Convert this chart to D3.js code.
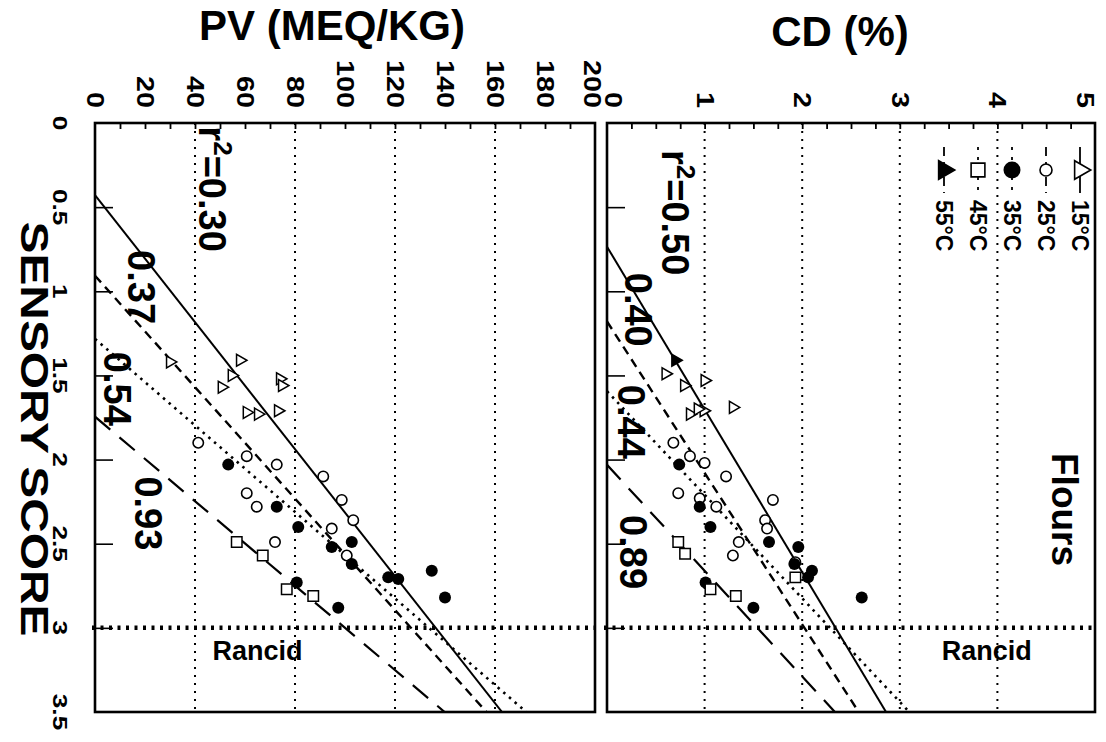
<!DOCTYPE html>
<html>
<head>
<meta charset="utf-8">
<script src="https://cdn.jsdelivr.net/npm/d3@7"></script>
<style>
  body { margin: 0; background: #fff; }
  text { font-family: "Liberation Sans", Arial, Helvetica, sans-serif; font-weight: bold; fill: #000; }
</style>
</head>
<body>
<svg id="chart" width="1106" height="742"></svg>
<script>
// ---- axis ticks ----
const scoreTicks = [0, 0.5, 1, 1.5, 2, 2.5, 3, 3.5];
const pvTicks = [0, 20, 40, 60, 80, 100, 120, 140, 160, 180, 200];
const cdTicks = [0, 1, 2, 3, 4, 5];
const pvGrid = [40, 80, 120, 160];
const cdGrid = [1, 2, 3, 4];
const rancidScore = 3;

// ---- storage temperatures ----
const temperatures = ["15°C", "25°C", "35°C", "45°C", "55°C"];

// ---- peroxide value, points as [sensory score, PV] ----
const pv15 = [[1.41, 58], [1.42, 30], [1.50, 54.7], [1.57, 50.7], [1.52, 74], [1.56, 74.8],
              [1.71, 73.2], [1.72, 60.7], [1.73, 65.2]];
const pv25 = [[1.90, 41.3], [1.98, 60.7], [2.03, 72.7], [2.10, 91.3], [2.24, 98.7], [2.36, 103.3],
              [2.20, 60.7], [2.28, 64.7], [2.41, 94.7], [2.49, 72], [2.57, 100.7]];
const pv35 = [[2.03, 53.3], [2.28, 72.7], [2.40, 81.3], [2.52, 94.7], [2.49, 102.7], [2.62, 102.7],
              [2.70, 117.3], [2.71, 121.3], [2.66, 134.7], [2.82, 140], [2.73, 80.7], [2.88, 97.3]];
const pv45 = [[2.49, 56.7], [2.57, 67.1], [2.77, 76.7], [2.81, 87.3]];
const pv55 = [];

// ---- conjugated dienes, points as [sensory score, CD %] ----
const cd15 = [[1.49, 0.60], [1.53, 1.00], [1.56, 0.79], [1.69, 1.29], [1.71, 0.99], [1.73, 0.85], [1.70, 0.93]];
const cd25 = [[1.90, 0.68], [1.98, 0.85], [2.02, 1.00], [2.10, 1.22], [2.20, 0.73], [2.23, 0.95],
              [2.28, 1.12], [2.24, 1.70], [2.36, 1.62], [2.41, 1.64], [2.49, 1.35], [2.57, 1.29], [2.61, 1.93]];
const cd35 = [[2.03, 0.74], [2.28, 0.95], [2.40, 1.06], [2.49, 1.66], [2.52, 1.96], [2.62, 1.92],
              [2.66, 2.10], [2.70, 2.06], [2.82, 2.61], [2.88, 1.50], [2.73, 1.01]];
const cd45 = [[2.49, 0.73], [2.56, 0.80], [2.77, 1.06], [2.81, 1.32], [2.70, 1.93]];
const cd55 = [[1.41, 0.70]];

// ---- linear fits (value = intercept + slope * score) for 15, 25, 35, 45 °C ----
const pvR2 = ["0.30", "0.37", "0.54", "0.93"];
const pvIntercept = [-22.7, -54.8, -99.8, -139.1];
const pvSlope = [53.0, 60.4, 77.8, 79.7];
const cdR2 = ["0.50", "0.40", "0.44", "0.89"];
const cdIntercept = [-0.76, -1.31, -2.59, -3.23];
const cdSlope = [1.034, 1.111, 1.625, 1.59];

// ---- drawing ----
const svg = d3.select("#chart");
const plotTop = 123, plotBottom = 712;
const y = d3.scaleLinear().domain([0, 3.5]).range([plotTop, plotBottom]);
const xPV = d3.scaleLinear().domain([0, 200]).range([95, 595]);
const xCD = d3.scaleLinear().domain([0, 5]).range([607, 1095]);

// line style per temperature (index into temperatures)
const lineStyle = [
  { dash: null, width: 2 },
  { dash: "9 6", width: 2.4 },
  { dash: "2.5 5", width: 2.6 },
  { dash: "20 12", width: 2.2 },
  { dash: "9 6", width: 2.2 }
];
const sym = {
  tri: d3.symbol().type(d3.symbolTriangle),
  sq: d3.symbol().type(d3.symbolSquare)
};

// rotated text helper: reads top-to-bottom
function vtext(g, x, yy, str, size, anchor, stretch) {
  const t = g.append("text")
    .attr("transform", `translate(${x},${yy}) rotate(90) scale(${stretch || 1},1)`)
    .attr("font-size", size)
    .attr("text-anchor", anchor || "start");
  t.text(str);
  return t;
}

function panel(x, ticksMajor, minorStep, grid, series, r2, b0, b1, labelPos, rancidAt, inset, id) {
  const [x0, x1] = x.range();
  const g = svg.append("g");

  g.append("clipPath").attr("id", id).append("rect")
    .attr("x", x0).attr("y", plotTop).attr("width", x1 - x0).attr("height", plotBottom - plotTop);

  // vertical dotted gridlines
  g.selectAll(".grid").data(grid).join("line")
    .attr("x1", d => x(d)).attr("x2", d => x(d))
    .attr("y1", plotTop).attr("y2", plotBottom)
    .attr("stroke", "#000").attr("stroke-width", 2).attr("stroke-dasharray", "2 6");

  // rancid threshold
  g.append("line")
    .attr("x1", x0 - 3).attr("x2", x1)
    .attr("y1", y(rancidScore)).attr("y2", y(rancidScore))
    .attr("stroke", "#000").attr("stroke-width", 4.5).attr("stroke-dasharray", "3 5.5");

  // top axis ticks (inward)
  const dom = x.domain();
  const minor = d3.range(dom[0] + minorStep, dom[1] - 1e-9, minorStep);
  g.append("g").attr("transform", `translate(0,${plotTop})`)
    .call(d3.axisTop(x).tickValues(minor).tickSize(-6).tickFormat(""))
    .call(s => s.select(".domain").remove())
    .call(s => s.selectAll("line").attr("stroke-width", 1.8));

  // score ticks on the left edge (inward)
  g.append("g").attr("transform", `translate(${x0},0)`)
    .call(d3.axisLeft(y).tickValues(scoreTicks.slice(1, -1)).tickSize(-18).tickFormat(""))
    .call(s => s.select(".domain").remove())
    .call(s => s.selectAll("line").attr("stroke-width", 1.6));

  // fitted lines
  const lineGen = d3.line().x(d => x(d[1])).y(d => y(d[0]));
  const fits = g.append("g").attr("clip-path", `url(#${id})`);
  b0.forEach((a, i) => {
    const s0 = Math.max(0, -a / b1[i]);
    const s1 = 3.5;
    fits.append("path")
      .attr("d", lineGen([[s0, a + b1[i] * s0], [s1, a + b1[i] * s1]]))
      .attr("fill", "none").attr("stroke", "#000")
      .attr("stroke-width", lineStyle[i].width)
      .attr("stroke-dasharray", lineStyle[i].dash);
  });

  // points
  const pts = g.append("g");
  series.forEach((data, i) => {
    data.forEach(d => {
      const px = x(d[1]), py = y(d[0]);
      if (i === 0 || i === 4) {
        pts.append("path").attr("d", sym.tri.size(62)())
          .attr("transform", `translate(${px},${py}) rotate(90)`)
          .attr("fill", i === 4 ? "#000" : "#fff").attr("stroke", "#000").attr("stroke-width", 1.5);
      } else if (i === 1) {
        pts.append("circle").attr("cx", px).attr("cy", py).attr("r", 5.2)
          .attr("fill", "#fff").attr("stroke", "#000").attr("stroke-width", 1.6);
      } else if (i === 2) {
        pts.append("circle").attr("cx", px).attr("cy", py).attr("r", 6)
          .attr("fill", "#000");
      } else {
        pts.append("path").attr("d", sym.sq.size(110)())
          .attr("transform", `translate(${px},${py})`)
          .attr("fill", "#fff").attr("stroke", "#000").attr("stroke-width", 1.5);
      }
    });
  });

  // r² labels
  r2.forEach((v, i) => {
    const [lv, ls] = labelPos[i];
    const t = g.append("text")
      .attr("transform", `translate(${x(lv)},${y(ls)}) rotate(90)`)
      .attr("font-size", 38);
    if (i === 0) {
      t.append("tspan").text("r");
      t.append("tspan").attr("font-size", 26).attr("dy", -15).text("2");
      t.append("tspan").attr("dy", 15).text("=" + v);
    } else {
      t.text(v);
    }
  });

  // frame
  g.append("rect").attr("x", x0).attr("y", plotTop).attr("width", x1 - x0).attr("height", plotBottom - plotTop)
    .attr("fill", "none").attr("stroke", "#000").attr("stroke-width", 2.6);

  // Rancid label
  g.append("text").attr("x", x(rancidAt)).attr("y", y(rancidScore) + 32)
    .attr("font-size", 27).text("Rancid");

  // value tick labels along the top, kept inside the panel's span
  ticksMajor.forEach(v => {
    const cx = Math.min(Math.max(x(v), x0 + inset[0]), x1 - inset[1]);
    vtext(svg, cx - 8, 108, String(v), 23, "end", 1.25);
  });
  return g;
}

panel(xPV, pvTicks, 10, pvGrid, [pv15, pv25, pv35, pv45, pv55],
  pvR2, pvIntercept, pvSlope,
  [[41.6, 0.02], [13.2, 0.755], [3.6, 1.36], [16, 2.10]], 47, [-2, 3], "clipPV");

panel(xCD, cdTicks, 0.25, cdGrid, [cd15, cd25, cd35, cd45, cd55],
  cdR2, cdIntercept, cdSlope,
  [[0.56, 0.16], [0.18, 0.89], [0.11, 1.556], [0.13, 2.33]], 3.43, [6, 10], "clipCD");

// sensory score tick labels
scoreTicks.forEach(v => {
  vtext(svg, 53, y(v), String(v), 21, "middle", 1.25);
});

// axis titles
svg.append("text").attr("x", 332).attr("y", 40).attr("text-anchor", "middle")
  .attr("font-size", 42).text("PV (MEQ/KG)");
svg.append("text").attr("x", 840).attr("y", 46).attr("text-anchor", "middle")
  .attr("font-size", 42).text("CD (%)");
vtext(svg, 21, 429, "SENSORY SCORE", 38, "middle", 1.26);

// panel name
vtext(svg, 1052, 453, "Flours", 37, "start", 1);

// legend
const legX = [1080, 1046, 1012, 978, 944];
const legY = 170;
const lg = svg.append("g");
temperatures.forEach((t, i) => {
  const cx = legX[i];
  lg.append("line").attr("x1", cx).attr("x2", cx).attr("y1", 147).attr("y2", 193)
    .attr("stroke", "#000").attr("stroke-width", 1.8)
    .attr("stroke-dasharray", i === 0 ? null : (i === 2 || i === 3 ? "3 7" : "9 6"));
  if (i === 0 || i === 4) {
    lg.append("path").attr("d", sym.tri.size(150)())
      .attr("transform", `translate(${cx},${legY}) rotate(90)`)
      .attr("fill", i === 4 ? "#000" : "#fff").attr("stroke", "#000").attr("stroke-width", 1.6);
  } else if (i === 1) {
    lg.append("circle").attr("cx", cx).attr("cy", legY).attr("r", 6)
      .attr("fill", "#fff").attr("stroke", "#000").attr("stroke-width", 1.6);
  } else if (i === 2) {
    lg.append("circle").attr("cx", cx).attr("cy", legY).attr("r", 8.5).attr("fill", "#000");
  } else {
    lg.append("path").attr("d", sym.sq.size(190)())
      .attr("transform", `translate(${cx},${legY})`)
      .attr("fill", "#fff").attr("stroke", "#000").attr("stroke-width", 1.6);
  }
  vtext(lg, cx - 8, 200, t, 23, "start", 1);
});
</script>
</body>
</html>
